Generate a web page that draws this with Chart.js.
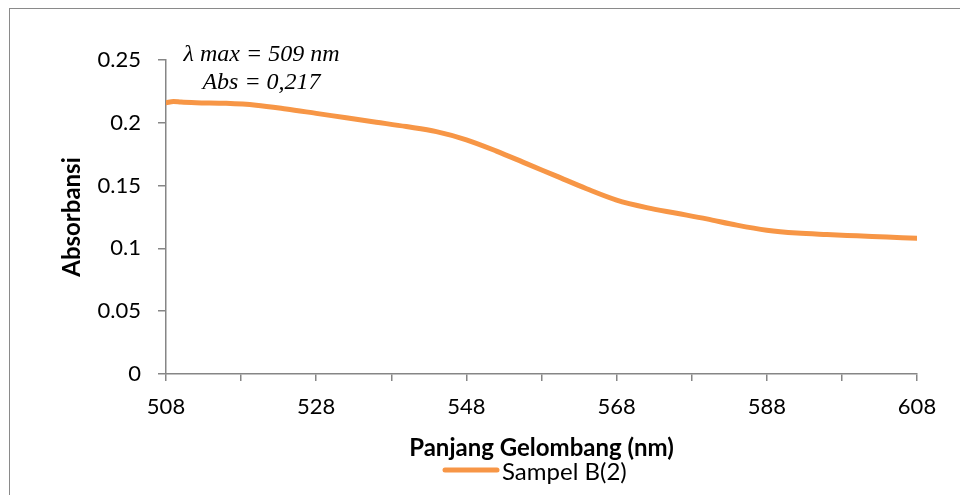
<!DOCTYPE html>
<html>
<head>
<meta charset="utf-8">
<script src="https://cdn.jsdelivr.net/npm/chart.js@4/dist/chart.umd.min.js"></script>
<style>
  html, body { margin: 0; padding: 0; background: #fff; overflow: hidden; width: 960px; height: 495px; }
  #frame { position: absolute; left: 9px; top: 8px; width: 1000px; height: 600px; border: 1px solid #8a8a8a; box-sizing: border-box; }
  #c { position: absolute; left: 0; top: 0; }
</style>
</head>
<body>
<div id="frame"></div>
<canvas id="c" width="960" height="495"></canvas>
<script>
// Absorption spectrum of sample B(2)
const wavelengths = [508, 509, 510, 512, 516, 520, 524, 528, 532, 536, 540, 544, 548, 552, 556, 560, 564, 568, 572, 576, 580, 584, 588, 592, 596, 600, 604, 608];
const absorbance  = [0.216, 0.217, 0.2165, 0.216, 0.2155, 0.214, 0.211, 0.2075, 0.204, 0.2005, 0.197, 0.193, 0.1865, 0.1775, 0.1675, 0.1575, 0.1475, 0.1385, 0.1325, 0.128, 0.1235, 0.1185, 0.1145, 0.1122, 0.111, 0.110, 0.109, 0.108];
const xTickValues = [508, 518, 528, 538, 548, 558, 568, 578, 588, 598, 608];
const xTickLabels = [508, 528, 548, 568, 588, 608];
const yTickValues = [0, 0.05, 0.1, 0.15, 0.2, 0.25];
const seriesName = 'Sampel B(2)';
const xTitle = 'Panjang Gelombang (nm)';
const yTitle = 'Absorbansi';

const FONT = 'Lato';
const AXIS_GREY = '#868686';
const LINE_COLOR = '#F79646';

// Peak note written above the maximum of the curve
const peakNote = {
  id: 'peakNote',
  afterDatasetsDraw(chart) {
    const ctx = chart.ctx;
    const ds = chart.data.datasets[0].data;
    let best = 0;
    ds.forEach((p, i) => { if (p.y > ds[best].y) best = i; });
    const px = chart.scales.x.getPixelForValue(ds[best].x);
    const py = chart.scales.y.getPixelForValue(ds[best].y);
    ctx.save();
    ctx.fillStyle = '#000';
    ctx.font = 'italic 24px "Liberation Serif"';
    ctx.textAlign = 'center';
    ctx.textBaseline = 'middle';
    ctx.fillText('\u03BB max = ' + ds[best].x + ' nm', px + 88, py - 47);
    ctx.fillText('Abs = ' + ds[best].y.toFixed(3).replace('.', ','), px + 88, py - 19);
    ctx.restore();
  }
};

// Single-entry legend under the axis title
const bottomLegend = {
  id: 'bottomLegend',
  afterDraw(chart) {
    const ctx = chart.ctx;
    const ds = chart.data.datasets[0];
    ctx.save();
    ctx.strokeStyle = ds.borderColor;
    ctx.lineWidth = 5;
    ctx.lineCap = 'round';
    ctx.beginPath();
    ctx.moveTo(445, 470);
    ctx.lineTo(497, 470);
    ctx.stroke();
    ctx.fillStyle = '#000';
    ctx.font = '24px ' + FONT;
    ctx.textAlign = 'left';
    ctx.textBaseline = 'middle';
    ctx.fillText(ds.label, 502, 472);
    ctx.restore();
  }
};

new Chart(document.getElementById('c'), {
  type: 'line',
  data: {
    datasets: [{
      label: seriesName,
      data: wavelengths.map((w, i) => ({ x: w, y: absorbance[i] })),
      borderColor: LINE_COLOR,
      backgroundColor: LINE_COLOR,
      borderWidth: 5,
      borderCapStyle: 'round',
      borderJoinStyle: 'round',
      pointRadius: 0,
      tension: 0.4,
      cubicInterpolationMode: 'monotone',
      fill: false
    }]
  },
  options: {
    responsive: false,
    devicePixelRatio: 1,
    animation: false,
    layout: { padding: { left: 0, right: 43, top: 60, bottom: 32 } },
    plugins: { legend: { display: false }, tooltip: { enabled: false } },
    scales: {
      x: {
        type: 'linear',
        min: 508,
        max: 608,
        afterBuildTicks: s => { s.ticks = xTickValues.map(v => ({ value: v })); },
        afterFit: s => { s.height = 89; },
        ticks: {
          autoSkip: false,
          maxRotation: 0,
          padding: 13,
          color: '#000',
          font: { family: FONT, size: 22 },
          callback: v => xTickLabels.includes(v) ? String(v) : ''
        },
        grid: { drawOnChartArea: false, drawTicks: true, tickLength: 7, color: AXIS_GREY, lineWidth: 1.5 },
        border: { display: true, color: AXIS_GREY, width: 1.5 },
        title: { display: true, text: xTitle, color: '#000', font: { family: FONT, size: 24, weight: 'bold' }, padding: { top: 0, bottom: 0 } }
      },
      y: {
        type: 'linear',
        min: 0,
        max: 0.25,
        afterBuildTicks: s => { s.ticks = yTickValues.map(v => ({ value: v })); },
        afterFit: s => { s.width = 166; },
        ticks: {
          padding: 17,
          color: '#000',
          font: { family: FONT, size: 22 },
          callback: v => String(+v.toFixed(2))
        },
        grid: { drawOnChartArea: false, drawTicks: true, tickLength: 8, color: AXIS_GREY, lineWidth: 1.5 },
        border: { display: true, color: AXIS_GREY, width: 1.5 },
        title: { display: true, text: yTitle, color: '#000', font: { family: FONT, size: 24, weight: 'bold' }, padding: { top: 58, bottom: 0 } }
      }
    }
  },
  plugins: [peakNote, bottomLegend]
});
</script>
</body>
</html>
